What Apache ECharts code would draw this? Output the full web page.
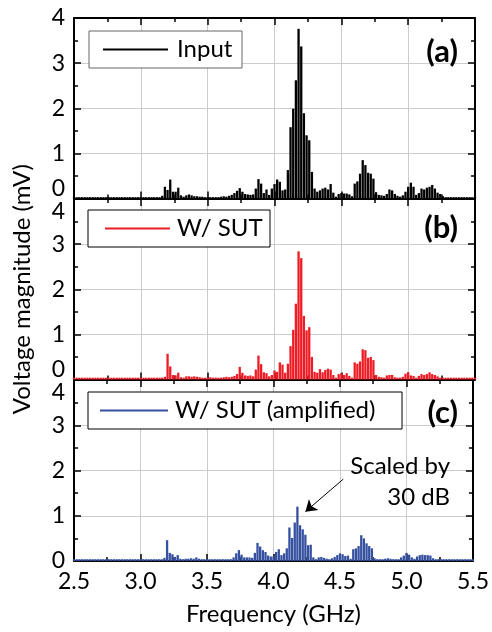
<!DOCTYPE html>
<html><head><meta charset="utf-8">
<script src="https://cdn.jsdelivr.net/npm/echarts@6/dist/echarts.min.js"></script>
<style>html,body{margin:0;padding:0;background:#fff}#c{width:492px;height:632px}</style>
</head><body><div id="c"></div>
<script>
// Frequency bins (GHz), one row per 0.1 GHz
const freqGHz = [
 2.50,2.52,2.54,2.56,2.58, 2.60,2.62,2.64,2.66,2.68, 2.70,2.72,2.74,2.76,2.78, 2.80,2.82,2.84,2.86,2.88, 2.90,2.92,2.94,2.96,2.98,
 3.00,3.02,3.04,3.06,3.08, 3.10,3.12,3.14,3.16,3.18, 3.20,3.22,3.24,3.26,3.28, 3.30,3.32,3.34,3.36,3.38, 3.40,3.42,3.44,3.46,3.48,
 3.50,3.52,3.54,3.56,3.58, 3.60,3.62,3.64,3.66,3.68, 3.70,3.72,3.74,3.76,3.78, 3.80,3.82,3.84,3.86,3.88, 3.90,3.92,3.94,3.96,3.98,
 4.00,4.02,4.04,4.06,4.08, 4.10,4.12,4.14,4.16,4.18, 4.20,4.22,4.24,4.26,4.28, 4.30,4.32,4.34,4.36,4.38, 4.40,4.42,4.44,4.46,4.48,
 4.50,4.52,4.54,4.56,4.58, 4.60,4.62,4.64,4.66,4.68, 4.70,4.72,4.74,4.76,4.78, 4.80,4.82,4.84,4.86,4.88, 4.90,4.92,4.94,4.96,4.98,
 5.00,5.02,5.04,5.06,5.08, 5.10,5.12,5.14,5.16,5.18, 5.20,5.22,5.24,5.26,5.28, 5.30,5.32,5.34,5.36,5.38, 5.40,5.42,5.44,5.46,5.48,
 5.50
];
// (a) Input, mV
const inputMV = [
 0.03,0.03,0.03,0.03,0.03, 0.03,0.03,0.03,0.03,0.03, 0.03,0.03,0.03,0.03,0.03, 0.03,0.03,0.03,0.03,0.03, 0.03,0.03,0.03,0.03,0.03,
 0.03,0.03,0.03,0.03,0.03, 0.03,0.03,0.03,0.06,0.26, 0.19,0.42,0.15,0.15,0.24, 0.07,0.04,0.07,0.09,0.07, 0.05,0.05,0.04,0.04,0.03,
 0.03,0.03,0.03,0.03,0.03, 0.04,0.05,0.04,0.06,0.08, 0.12,0.17,0.23,0.15,0.10, 0.09,0.08,0.09,0.22,0.43, 0.33,0.12,0.20,0.08,0.22,
 0.32,0.42,0.37,0.18,0.20, 0.63,1.58,1.99,2.62,3.76, 3.37,1.89,1.40,1.29,0.59, 0.22,0.15,0.18,0.22,0.24, 0.20,0.32,0.13,0.04,0.10,
 0.12,0.11,0.11,0.09,0.05, 0.33,0.38,0.55,0.85,0.74, 0.57,0.55,0.44,0.14,0.08, 0.07,0.06,0.10,0.20,0.18, 0.10,0.06,0.04,0.07,0.15,
 0.26,0.35,0.26,0.08,0.12, 0.22,0.20,0.24,0.26,0.30, 0.22,0.13,0.10,0.05,0.03, 0.03,0.03,0.03,0.03,0.03, 0.03,0.03,0.03,0.03,0.03,
 0.03
];
// (b) W/ SUT, mV
const sutMV = [
 0.04,0.04,0.04,0.04,0.04, 0.04,0.04,0.04,0.04,0.04, 0.04,0.04,0.04,0.04,0.04, 0.04,0.04,0.04,0.04,0.04, 0.04,0.04,0.04,0.04,0.04,
 0.04,0.04,0.04,0.04,0.04, 0.04,0.04,0.04,0.04,0.06, 0.57,0.29,0.10,0.09,0.15, 0.05,0.04,0.07,0.07,0.06, 0.07,0.06,0.05,0.04,0.04,
 0.04,0.05,0.04,0.04,0.04, 0.04,0.05,0.06,0.05,0.06, 0.08,0.12,0.28,0.15,0.09, 0.08,0.09,0.07,0.22,0.53, 0.34,0.16,0.14,0.07,0.10,
 0.20,0.17,0.38,0.33,0.15, 0.35,0.74,1.10,1.68,2.84, 2.69,1.41,1.09,1.16,0.50, 0.17,0.15,0.23,0.16,0.21, 0.24,0.22,0.10,0.04,0.12,
 0.14,0.10,0.14,0.08,0.04, 0.38,0.35,0.40,0.67,0.65, 0.48,0.50,0.43,0.10,0.06, 0.05,0.04,0.09,0.10,0.10, 0.05,0.04,0.04,0.06,0.13,
 0.16,0.09,0.08,0.04,0.08, 0.12,0.10,0.12,0.16,0.12, 0.10,0.07,0.04,0.04,0.04, 0.04,0.04,0.04,0.04,0.04, 0.04,0.04,0.04,0.04,0.04,
 0.04
];
// (c) W/ SUT (amplified), mV
const ampMV = [
 0.04,0.04,0.04,0.04,0.04, 0.04,0.04,0.04,0.04,0.04, 0.04,0.04,0.04,0.04,0.04, 0.04,0.04,0.04,0.04,0.04, 0.04,0.04,0.04,0.04,0.04,
 0.04,0.04,0.04,0.04,0.04, 0.04,0.04,0.04,0.04,0.07, 0.46,0.18,0.15,0.09,0.13, 0.05,0.04,0.05,0.05,0.06, 0.05,0.08,0.05,0.04,0.04,
 0.04,0.04,0.04,0.04,0.04, 0.04,0.04,0.04,0.04,0.04, 0.08,0.17,0.24,0.14,0.08, 0.08,0.08,0.07,0.18,0.40, 0.32,0.24,0.20,0.12,0.10,
 0.10,0.20,0.26,0.13,0.17, 0.28,0.74,0.51,0.85,1.20, 0.79,0.70,0.58,0.35,0.36, 0.08,0.04,0.08,0.09,0.07, 0.05,0.04,0.06,0.09,0.13,
 0.17,0.15,0.11,0.12,0.05, 0.26,0.28,0.33,0.57,0.50, 0.39,0.33,0.28,0.06,0.04, 0.04,0.04,0.05,0.06,0.05, 0.04,0.04,0.04,0.08,0.12,
 0.18,0.14,0.08,0.05,0.10, 0.13,0.14,0.13,0.13,0.12, 0.06,0.04,0.04,0.04,0.04, 0.04,0.04,0.04,0.04,0.04, 0.04,0.04,0.04,0.04,0.04,
 0.04
];
const seriesNames = ['Input', 'W/ SUT', 'W/ SUT (amplified)'];
const seriesColors = ['#000000', '#ee1c25', '#34509f'];
const panelLabels = ['(a)', '(b)', '(c)'];
const xRange = {min: 2.5, max: 5.5, interval: 0.5};
const yRange = {min: 0, max: 4, interval: 1};
const xTitle = 'Frequency (GHz)';
const yTitle = 'Voltage magnitude (mV)';
const noteText = 'Scaled by\n30 dB';
const arrowFrom = [4.525, 1.81];
const arrowTo = [4.24, 1.09];

const FONT = 'Lato, "Open Sans", sans-serif';
const values = [inputMV, sutMV, ampMV];
const grids = [
  {left: 74, width: 401, top: 18, height: 180.5},
  {left: 74, width: 401, top: 199, height: 180.5},
  {left: 74, width: 401, top: 380, height: 181}
];
const axLine = {show: true, onZero: false, lineStyle: {color: '#000', width: 2}};
const tick = {show: true, inside: true, length: 7, lineStyle: {color: '#000', width: 1.5}};
const mtick = (n) => ({show: true, splitNumber: n, length: 4, lineStyle: {color: '#000', width: 1.5}});
const gridLine = {show: true, lineStyle: {color: '#cccccc', width: 1}};

const xAxis = [], yAxis = [], series = [], legend = [], graphic = [];
const legendBoxes = [
  {left: 89, top: 31, padL: 14, iw: 65, tpad: 4, tw: 65, border: '#666'},
  {left: 88, top: 210, padL: 17, iw: 65, tpad: 2, tw: 93, border: '#000'},
  {left: 88, top: 392, padL: 12, iw: 68, tpad: 2, tw: 227, border: '#000'}
];
const labelY = [52, 228, 413];

for (let i = 0; i < 3; i++) {
  xAxis.push({
    type: 'value', gridIndex: i, position: 'bottom', min: xRange.min, max: xRange.max, interval: xRange.interval,
    axisLine: axLine, axisTick: tick, minorTick: mtick(2), splitLine: gridLine,
    axisLabel: {show: i === 2, margin: 9, fontSize: 23, fontFamily: FONT, color: '#000', formatter: v => v.toFixed(1)},
    name: i === 2 ? xTitle : '', nameLocation: 'middle', nameGap: 41,
    nameTextStyle: {fontSize: 24, fontFamily: FONT, color: '#000'}
  });
  xAxis.push({
    type: 'value', gridIndex: i, position: 'top', min: xRange.min, max: xRange.max, interval: xRange.interval,
    axisLine: axLine, axisTick: tick, minorTick: mtick(2), splitLine: {show: false}, axisLabel: {show: false}
  });
  const up0 = i < 2, down4 = i > 0;
  const rs = {fontSize: 23, fontFamily: FONT, color: '#000'};
  yAxis.push({
    type: 'value', gridIndex: i, position: 'left', min: yRange.min, max: yRange.max, interval: yRange.interval,
    axisLine: axLine, axisTick: tick, minorTick: mtick(2), splitLine: gridLine,
    axisLabel: {
      margin: 9, fontSize: 23, fontFamily: FONT, color: '#000',
      formatter: v => (up0 && v === 0) ? '{u|0}' : (down4 && v === 4) ? '{d|4}' : '{n|' + v + '}',
      rich: {n: rs, u: Object.assign({padding: [0, 0, 20, 0]}, rs), d: Object.assign({padding: [26, 0, 0, 0]}, rs)}
    },
    name: i === 1 ? yTitle : '', nameLocation: 'middle', nameGap: 40,
    nameTextStyle: {fontSize: 24, fontFamily: FONT, color: '#000'}
  });
  yAxis.push({
    type: 'value', gridIndex: i, position: 'right', min: yRange.min, max: yRange.max, interval: yRange.interval,
    axisLine: axLine, axisTick: tick, minorTick: mtick(2), splitLine: {show: false}, axisLabel: {show: false}
  });
  const s = {
    type: 'bar', name: seriesNames[i], xAxisIndex: 2 * i, yAxisIndex: 2 * i, barWidth: 2.3,
    itemStyle: {color: seriesColors[i]},
    data: freqGHz.map((f, k) => [f, values[i][k]])
  };
  if (i === 2) {
    s.markLine = {
      silent: true, animation: false, label: {show: false},
      lineStyle: {color: '#000', width: 1, type: 'solid'},
      data: [[{coord: arrowFrom, symbol: 'none'}, {coord: arrowTo, symbol: 'arrow', symbolSize: 11}]]
    };
  }
  series.push(s);
  const b = legendBoxes[i];
  legend.push({
    data: [{name: seriesNames[i], icon: 'rect'}], left: b.left, top: b.top, selectedMode: false,
    itemWidth: b.iw, itemHeight: 2, padding: [6, 0, 6, b.padL],
    borderColor: b.border, borderWidth: 1, backgroundColor: '#fff',
    textStyle: {fontSize: 24, fontFamily: FONT, color: '#000', width: b.tw, padding: [0, 0, 0, b.tpad], lineHeight: 25}
  });
  graphic.push({type: 'text', x: 458, y: labelY[i], z: 10,
    style: {text: panelLabels[i], font: 'bold 31px ' + FONT, fill: '#000', align: 'right', verticalAlign: 'middle'}});
}
graphic.push({type: 'text', x: 450, y: 482, z: 10,
  style: {text: noteText, font: '24px ' + FONT, fill: '#000', align: 'right', verticalAlign: 'middle', lineHeight: 31}});

const chart = echarts.init(document.getElementById('c'), null, {renderer: 'canvas'});
chart.setOption({animation: false, backgroundColor: '#fff', grid: grids, xAxis, yAxis, series, legend, graphic});
</script></body></html>
